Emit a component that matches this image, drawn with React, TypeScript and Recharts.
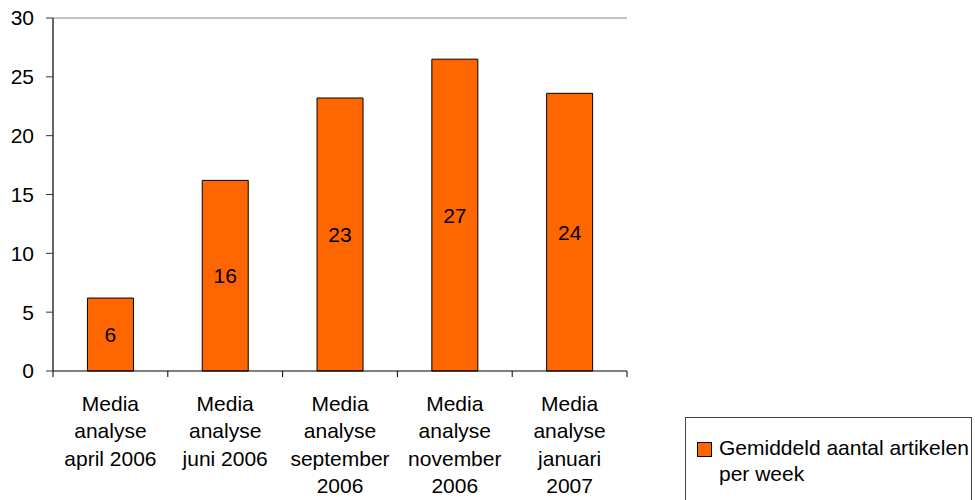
import React from "react";
import { BarChart, Bar, XAxis, YAxis, ReferenceLine, LabelList } from "recharts";

const categories = [
  "Media analyse april 2006",
  "Media analyse juni 2006",
  "Media analyse september 2006",
  "Media analyse november 2006",
  "Media analyse januari 2007",
];
const categoryLines = [
  ["Media", "analyse", "april 2006"],
  ["Media", "analyse", "juni 2006"],
  ["Media", "analyse", "september", "2006"],
  ["Media", "analyse", "november", "2006"],
  ["Media", "analyse", "januari", "2007"],
];
const values = [6.2, 16.2, 23.2, 26.5, 23.6];
const yTicks = [0, 5, 10, 15, 20, 25, 30];
const seriesName = "Gemiddeld aantal artikelen per week";

const data = categories.map((c, i) => ({ name: c, idx: i, value: values[i] }));

const FONT = "'Liberation Sans', Arial, Helvetica, sans-serif";
const ORANGE = "#FF6600";

const XTick = (props: any) => {
  const { x, y, payload, index } = props;
  const off = payload && payload.offset != null ? payload.offset : 57.4;
  const lines = categoryLines[payload.index != null ? payload.index : index] || [];
  const isLast = (payload.index != null ? payload.index : index) === categories.length - 1;
  return (
    <g>
      <line x1={x - off} y1={y} x2={x - off} y2={y + 6} stroke="#000" strokeWidth={1} />
      {isLast && <line x1={x + off} y1={y} x2={x + off} y2={y + 6} stroke="#000" strokeWidth={1} />}
      {lines.map((l: string, i: number) => (
        <text
          key={i}
          x={x}
          y={y + 40 + i * 27.3}
          textAnchor="middle"
          fontSize={21}
          fontFamily={FONT}
          fill="#000"
        >
          {l}
        </text>
      ))}
    </g>
  );
};

export default function App() {
  return (
    <div style={{ position: "absolute", left: 0, top: 0, width: 975, height: 500, background: "#fff", fontFamily: FONT }}>
      <BarChart
        width={975}
        height={500}
        data={data}
        margin={{ top: 18, right: 348, left: 0, bottom: 0 }}
        barCategoryGap="30%"
      >
        <XAxis
          dataKey="idx"
          height={129}
          interval={0}
          tickLine={false}
          tickSize={0}
          tickMargin={0}
          axisLine={{ stroke: "#000", strokeWidth: 1 }}
          tick={<XTick />}
        />
        <YAxis
          domain={[0, 30]}
          ticks={yTicks}
          width={53}
          tickSize={7}
          tickMargin={12}
          axisLine={{ stroke: "#333", strokeWidth: 1.5 }}
          tickLine={{ stroke: "#333" }}
          tick={{ fontSize: 21, fontFamily: FONT, fill: "#000" }}
          interval={0}
        />
        <YAxis
          yAxisId="r"
          orientation="right"
          domain={[0, 30]}
          width={0}
          tick={false}
          tickLine={false}
          axisLine={{ stroke: "#888", strokeWidth: 1 }}
        />
        <ReferenceLine y={30} stroke="#888" strokeWidth={1} />
        <Bar dataKey="value" name={seriesName} fill={ORANGE} stroke="#000" strokeWidth={1} isAnimationActive={false}>
          <LabelList
            dataKey="value"
            position="center"
            formatter={(v: any) => Math.round(Number(v))}
            style={{ fontSize: 21, fontFamily: FONT, fill: "#000" }}
          />
        </Bar>
      </BarChart>
      <div
        style={{
          position: "absolute",
          left: 685,
          top: 417,
          width: 287,
          height: 100,
          border: "1px solid #444",
          boxSizing: "border-box",
          fontFamily: FONT,
          fontSize: 21,
          color: "#000",
        }}
      >
        <div style={{ position: "absolute", left: 11, top: 24, width: 13, height: 13, background: ORANGE, border: "1px solid #000" }} />
        <div style={{ position: "absolute", left: 33, top: 17, width: 260, lineHeight: "26px", whiteSpace: "normal" }}>
          Gemiddeld aantal artikelen
          <br />
          per week
        </div>
      </div>
    </div>
  );
}
